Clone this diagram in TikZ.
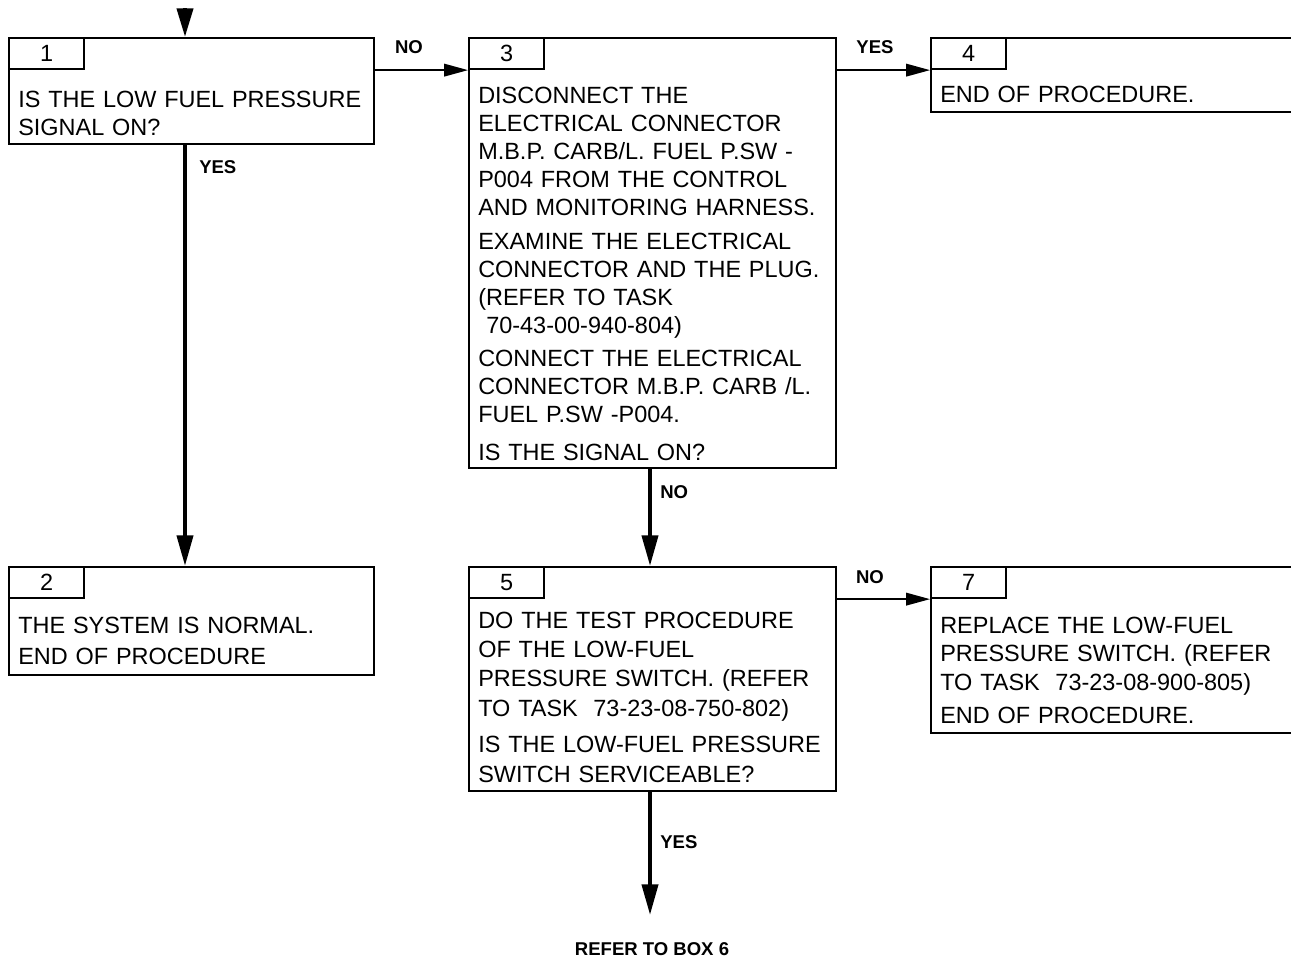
\documentclass[tikz,border=0pt]{standalone}
\usepackage{fontspec}
\setmainfont{Liberation Sans}
\usetikzlibrary{arrows.meta,positioning}

\newcommand{\bodyfont}{\fontsize{17.6pt}{21.4pt}\selectfont}
\newcommand{\lblfont}{\fontsize{13.9pt}{15pt}\selectfont\bfseries}

\begin{document}
\begin{tikzpicture}[
  x=0.75pt, y=-0.75pt,
  stepbox/.style 2 args={draw, line width=1.6pt, anchor=north west, inner sep=0pt,
    minimum width=#1*0.75pt, minimum height=#2*0.75pt},
  tab/.style={draw, line width=1.6pt, anchor=north west, inner sep=0pt,
    minimum width=75*0.75pt, minimum height=31*0.75pt, font=\bodyfont},
  txt/.style={anchor=base west, inner sep=0pt, align=left, text width=280pt, font=\bodyfont},
  lbl/.style={inner sep=0pt, font=\lblfont},
  flow/.style={-{Triangle[length=23pt, width=12pt]}, line width=3pt},
  branch/.style={-{Triangle[length=18pt, width=9.5pt]}, line width=1.2pt}
]
\clip (0,0) rectangle (1291,960);

% boxes
\node[stepbox={365}{106}] (b1) at (8,37) {};
\node[tab] (t1) at (b1.north west) {1};
\node[txt] (x1) at (18,107) {IS THE LOW FUEL PRESSURE\\SIGNAL ON?};

\node[stepbox={365}{108}] (b2) at (8,566) {};
\node[tab] (t2) at (b2.north west) {2};
\node[txt] (x2) at (18,633) {THE SYSTEM IS NORMAL.\\[2.5pt]END OF PROCEDURE};

\node[stepbox={367}{430}] (b3) at (468,37) {};
\node[tab] (t3) at (b3.north west) {3};
\node[txt, font=\fontsize{17.6pt}{21pt}\selectfont] (x3) at (478,103) {DISCONNECT THE\\ELECTRICAL CONNECTOR\\M.B.P. CARB/L. FUEL P.SW -\\P004 FROM THE CONTROL\\AND MONITORING HARNESS.\\[4.5pt]EXAMINE THE ELECTRICAL\\CONNECTOR AND THE PLUG.\\(REFER TO TASK\\\hspace*{6pt}70-43-00-940-804)\\[3.75pt]CONNECT THE ELECTRICAL\\CONNECTOR M.B.P. CARB /L.\\FUEL P.SW -P004.\\[7.5pt]IS THE SIGNAL ON?};

\node[stepbox={420}{74}] (b4) at (930,37) {};
\node[tab] (t4) at (b4.north west) {4};
\node[txt] (x4) at (940,102) {END OF PROCEDURE.};

\node[stepbox={367}{224}] (b5) at (468,566) {};
\node[tab] (t5) at (b5.north west) {5};
\node[txt, font=\fontsize{17.6pt}{22.1pt}\selectfont] (x5) at (478,628) {DO THE TEST PROCEDURE\\OF THE LOW-FUEL\\PRESSURE SWITCH. (REFER\\TO TASK\ \ 73-23-08-750-802)\\[5pt]IS THE LOW-FUEL PRESSURE\\SWITCH SERVICEABLE?};

\node[stepbox={420}{166}] (b7) at (930,566) {};
\node[tab] (t7) at (b7.north west) {7};
\node[txt] (x7) at (940,633) {REPLACE THE LOW-FUEL\\PRESSURE SWITCH. (REFER\\TO TASK\ \ 73-23-08-900-805)\\[3.4pt]END OF PROCEDURE.};

% connectors
\coordinate (entry) at (185,8);
\coordinate (exit) at (650,915);
\draw[flow, -{Triangle[length=21.5pt, width=12pt]}] (entry) -- (entry |- b1.north);
\draw[flow] (b1.south -| entry) -- (b2.north -| entry);
\draw[flow] (b3.south -| exit) -- (b5.north -| exit);
\draw[flow] (b5.south -| exit) -- (exit);
\draw[branch] (b1.east |- t1.south) -- (b3.west |- t1.south);
\draw[branch] (b3.east |- t3.south) -- (b4.west |- t3.south);
\draw[branch] (b5.east |- t5.south) -- (b7.west |- t5.south);

% labels
\node[lbl, anchor=base] (no13) at (409,53) {NO};
\node[lbl, anchor=base] (yes34) at (875,53) {YES};
\node[lbl, anchor=base west] (yes12) at (199,173) {YES};
\node[lbl, anchor=base west] (no35) at (660,498) {NO};
\node[lbl, anchor=base] (no57) at (870,583) {NO};
\node[lbl, anchor=base west] (yes56) at (660,848) {YES};
\node[lbl, anchor=base] (refer) at (652,955) {REFER TO BOX 6};

\end{tikzpicture}
\end{document}
